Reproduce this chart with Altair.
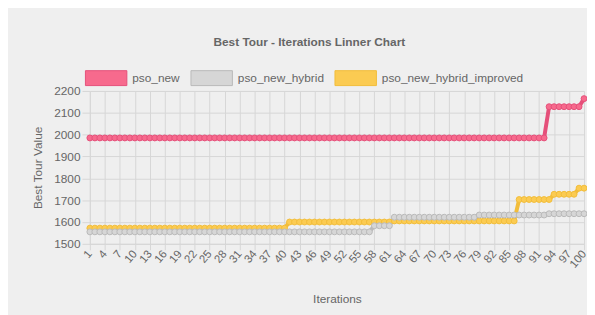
import altair as alt
import pandas as pd

# ---- data ----
series_names = ["pso_new", "pso_new_hybrid", "pso_new_hybrid_improved"]
iterations = list(range(1, 101))
pso_new = [1985] * 92 + [2128] * 7 + [2165]
pso_new_hybrid = [1555] * 57 + [1583] * 4 + [1622] * 17 + [1632] * 14 + [1638] * 8
pso_new_hybrid_improved = [1572] * 40 + [1600] * 21 + [1605] * 25 + [1703] * 7 + [1727] * 5 + [1755] * 2
x_tick_values = list(range(1, 101, 3))
y_tick_values = [1500, 1600, 1700, 1800, 1900, 2000, 2100, 2200]

border_colors = ["#e5507a", "#b9b9b9", "#f2bd3a"]
fill_colors = ["#f76a8d", "#d6d6d6", "#fbcb52"]

# draw order: improved first, pink last (on top)
rows = []
for name, vals in [("pso_new_hybrid_improved", pso_new_hybrid_improved),
                   ("pso_new_hybrid", pso_new_hybrid),
                   ("pso_new", pso_new)]:
    for it, v in zip(iterations, vals):
        rows.append({"series": name, "iteration": it, "value": v})
df = pd.DataFrame(rows)

FONT = "Liberation Sans"
GRID = "#d6d6d6"
TXT = "#666666"

x_enc = alt.X("iteration:Q",
              scale=alt.Scale(domain=[1, 100], nice=False, zero=False),
              axis=alt.Axis(values=x_tick_values, labelAngle=-50, labelFontSize=11.5,
                            labelColor=TXT, labelFont=FONT, tickSize=6, labelPadding=2,
                            grid=True, gridColor=GRID, tickColor=GRID, domainColor=GRID,
                            title="Iterations", titleFont=FONT, titleFontSize=12,
                            titleFontWeight="normal", titleColor=TXT,
                            titleY=59, titleBaseline="alphabetic",
                            labelOverlap=False, labelFlush=False))
y_enc = alt.Y("value:Q",
              scale=alt.Scale(domain=[1500, 2200], nice=False, zero=False),
              axis=alt.Axis(values=y_tick_values, format="d", labelFontSize=12,
                            labelColor=TXT, labelFont=FONT, tickSize=8, labelPadding=2,
                            grid=True, gridColor=GRID, tickColor=GRID, domainColor=GRID,
                            title="Best Tour Value", titleFont=FONT, titleFontSize=12,
                            titleFontWeight="normal", titleColor=TXT,
                            titleX=-49, titleBaseline="alphabetic"))

stroke_scale = alt.Scale(domain=series_names, range=border_colors)
fill_scale = alt.Scale(domain=series_names, range=fill_colors)

legend = alt.Legend(title=None, orient="none", legendX=-5, legendY=-35,
                    direction="horizontal",
                    symbolType="M-1,-0.36L1,-0.36L1,0.36L-1,0.36Z",
                    symbolSize=1764, symbolStrokeWidth=1, symbolOpacity=1,
                    labelFontSize=12, labelColor=TXT, labelFont=FONT,
                    labelOffset=5, columnPadding=8, padding=0)

lines = alt.Chart(df).mark_line(strokeWidth=4).encode(
    x=x_enc, y=y_enc,
    stroke=alt.Stroke("series:N", scale=stroke_scale, legend=legend),
    detail="series:N",
)

points = alt.Chart(df).mark_point(filled=True, size=36, opacity=1, strokeWidth=1).encode(
    x=x_enc, y=y_enc,
    stroke=alt.Stroke("series:N", scale=stroke_scale, legend=legend),
    fill=alt.Fill("series:N", scale=fill_scale, legend=legend),
)

chart = alt.layer(lines, points).properties(
    width=501, height=155,
    background="#efefef",
    padding={"left": 83, "top": 82, "right": 3, "bottom": 70},
    autosize=alt.AutoSizeParams(type="none"),
    title=alt.TitleParams("Best Tour - Iterations Linner Chart", anchor="middle",
                          font=FONT, fontSize=12, fontWeight="bold", color=TXT,
                          offset=0, dy=1, baseline="alphabetic", dx=-28),
).configure_view(strokeWidth=0)

chart.save("out.html", embed_options={"renderer": "svg", "actions": False})
